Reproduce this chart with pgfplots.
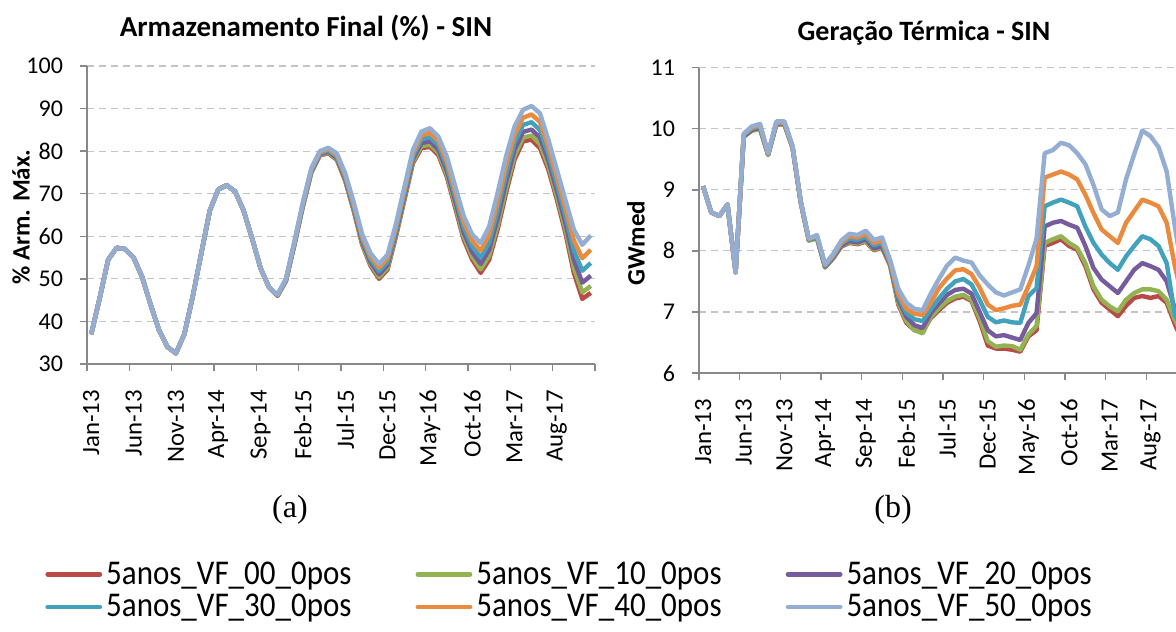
\documentclass[border=0pt]{standalone}
\usepackage{pgfplots}
\pgfplotsset{compat=1.18}
\usepackage{pgfplotstable}
\usepackage{graphicx}
\usepackage{fontspec}
\setmainfont{Carlito}
\newfontfamily\timesfont{Liberation Serif}

\definecolor{c00}{HTML}{B94A46}
\definecolor{c10}{HTML}{93B352}
\definecolor{c20}{HTML}{765C9C}
\definecolor{c30}{HTML}{42A1BC}
\definecolor{c40}{HTML}{EA8A3E}
\definecolor{c50}{HTML}{93ADD3}
\definecolor{axisgray}{HTML}{888888}
\definecolor{gridgray}{HTML}{C4C4C4}

% armazenamento final (% arm. max.), one row per month Jan-13 .. Dec-17
\pgfplotstableread{
x r g p t o lb
0.5 37 37 37 37 37 37
1.5 45.5 45.5 45.5 45.5 45.5 45.5
2.5 54.5 54.5 54.5 54.5 54.5 54.5
3.5 57.3 57.3 57.3 57.3 57.3 57.3
4.5 57 57 57 57 57 57
5.5 55 55 55 55 55 55
6.5 50.5 50.5 50.5 50.5 50.5 50.5
7.5 44 44 44 44 44 44
8.5 38 38 38 38 38 38
9.5 34 34 34 34 34 34
10.5 32.5 32.5 32.5 32.5 32.5 32.5
11.5 37 37 37 37 37 37
12.5 46 46 46 46 46 46
13.5 56 56 56 56 56 56
14.5 66 66 66 66 66 66
15.5 71 71 71 71 71 71
16.5 72 72 72 72 72 72
17.5 70.5 70.5 70.5 70.5 70.5 70.5
18.5 66 66 66 66 66 66
19.5 59.5 59.5 59.5 59.5 59.5 59.5
20.5 52.5 52.5 52.5 52.5 52.5 52.5
21.5 48 48 48 48 48 48
22.5 46 46.04 46.1 46.16 46.23 46.3
23.5 49.5 49.56 49.65 49.76 49.88 50
24.5 58 58.1 58.24 58.42 58.6 58.8
25.5 67 67.12 67.3 67.52 67.75 68
26.5 75 75.12 75.3 75.52 75.75 76
27.5 79 79.12 79.3 79.52 79.75 80
28.5 79.5 79.66 79.89 80.18 80.48 80.8
29.5 78 78.18 78.45 78.78 79.13 79.5
30.5 73 73.22 73.54 73.94 74.35 74.8
31.5 66 66.24 66.6 67.04 67.5 68
32.5 58 58.3 58.75 59.3 59.88 60.5
33.5 53 53.36 53.9 54.56 55.25 56
34.5 50 50.42 51.05 51.82 52.63 53.5
35.5 52.2 52.62 53.25 54.02 54.83 55.7
36.5 60 60.36 60.9 61.56 62.25 63
37.5 68.6 68.97 69.53 70.21 70.93 71.7
38.5 77.2 77.57 78.13 78.81 79.53 80.3
39.5 80.7 81.17 81.87 82.73 83.63 84.6
40.5 81 81.53 82.32 83.29 84.3 85.4
41.5 79.1 79.62 80.39 81.34 82.33 83.4
42.5 74 74.56 75.41 76.44 77.53 78.7
43.5 66.6 67.21 68.13 69.25 70.43 71.7
44.5 59.2 59.86 60.85 62.06 63.33 64.7
45.5 54.5 55.21 56.27 57.57 58.93 60.4
46.5 51.4 52.24 53.5 55.04 56.65 58.4
47.5 54.5 55.44 56.84 58.56 60.35 62.3
48.5 61.6 62.63 64.18 66.07 68.05 70.2
49.5 70.2 71.23 72.78 74.67 76.65 78.8
50.5 78 78.94 80.34 82.06 83.85 85.8
51.5 82.3 83.19 84.52 86.15 87.85 89.7
52.5 82.7 83.65 85.07 86.81 88.63 90.6
53.5 80.7 81.68 83.16 84.96 86.85 88.9
54.5 75.6 76.44 77.7 79.24 80.85 82.6
55.5 68.6 69.44 70.7 72.24 73.85 75.6
56.5 60.8 61.74 63.14 64.86 66.65 68.6
57.5 51.4 52.62 54.46 56.7 59.05 61.6
58.5 45.3 46.82 49.11 51.9 54.83 58
59.5 46.7 48.32 50.75 53.72 56.83 60.2
}\arm

% geracao termica (GWmed)
\pgfplotstableread{
x r g p t o lb
0.5 9.06 9.06 9.06 9.06 9.06 9.06
1.5 8.63 8.63 8.63 8.63 8.63 8.63
2.5 8.57 8.57 8.57 8.57 8.57 8.57
3.5 8.76 8.76 8.76 8.76 8.76 8.76
4.5 7.65 7.65 7.65 7.65 7.65 7.65
5.5 9.87 9.87 9.88 9.9 9.91 9.92
6.5 9.97 9.97 9.98 10.0 10.02 10.04
7.5 10.0 10.0 10.02 10.04 10.06 10.08
8.5 9.57 9.57 9.58 9.58 9.59 9.6
9.5 10.07 10.07 10.08 10.09 10.1 10.12
10.5 10.07 10.07 10.08 10.09 10.1 10.12
11.5 9.69 9.69 9.7 9.7 9.71 9.72
12.5 8.8 8.8 8.8 8.81 8.81 8.82
13.5 8.17 8.17 8.18 8.18 8.19 8.2
14.5 8.21 8.21 8.22 8.23 8.25 8.26
15.5 7.73 7.73 7.74 7.75 7.77 7.78
16.5 7.88 7.88 7.89 7.91 7.93 7.95
17.5 8.07 8.08 8.09 8.12 8.14 8.17
18.5 8.13 8.14 8.16 8.2 8.24 8.28
19.5 8.11 8.12 8.14 8.18 8.22 8.26
20.5 8.15 8.16 8.19 8.23 8.28 8.33
21.5 8.01 8.02 8.04 8.09 8.13 8.18
22.5 8.05 8.06 8.08 8.13 8.17 8.22
23.5 7.76 7.76 7.78 7.8 7.82 7.85
24.5 7.12 7.15 7.2 7.25 7.3 7.38
25.5 6.82 6.85 6.92 6.98 7.05 7.15
26.5 6.7 6.7 6.78 6.88 6.97 7.05
27.5 6.68 6.65 6.74 6.85 6.95 7.03
28.5 6.9 6.92 6.98 7.05 7.15 7.3
29.5 7.03 7.06 7.14 7.22 7.39 7.54
30.5 7.15 7.18 7.28 7.38 7.55 7.76
31.5 7.22 7.25 7.36 7.5 7.68 7.89
32.5 7.25 7.28 7.38 7.54 7.7 7.84
33.5 7.18 7.2 7.3 7.45 7.62 7.81
34.5 6.85 6.9 7.0 7.2 7.4 7.6
35.5 6.45 6.52 6.7 6.92 7.12 7.45
36.5 6.4 6.43 6.6 6.83 7.03 7.32
37.5 6.4 6.45 6.62 6.86 7.06 7.27
38.5 6.38 6.44 6.58 6.83 7.1 7.32
39.5 6.35 6.38 6.54 6.82 7.12 7.37
40.5 6.6 6.63 6.82 7.26 7.42 7.76
41.5 6.7 6.77 6.98 7.39 7.75 8.2
42.5 8.08 8.13 8.4 8.73 9.2 9.6
43.5 8.13 8.19 8.46 8.79 9.25 9.65
44.5 8.19 8.24 8.49 8.84 9.3 9.77
45.5 8.08 8.13 8.43 8.79 9.25 9.73
46.5 8.02 8.05 8.38 8.73 9.17 9.6
47.5 7.75 7.8 8.08 8.4 8.92 9.42
48.5 7.37 7.42 7.72 8.13 8.62 9.08
49.5 7.15 7.2 7.53 7.94 8.35 8.68
50.5 7.04 7.09 7.42 7.8 8.24 8.57
51.5 6.93 7.01 7.31 7.69 8.13 8.63
52.5 7.1 7.2 7.5 7.91 8.46 9.17
53.5 7.23 7.31 7.69 8.08 8.65 9.58
54.5 7.26 7.37 7.8 8.24 8.84 9.97
55.5 7.23 7.37 7.75 8.19 8.79 9.88
56.5 7.26 7.34 7.69 8.08 8.73 9.7
57.5 7.15 7.2 7.5 7.8 8.46 9.3
58.5 6.8 6.87 7.05 6.95 7.75 8.4
59.5 6.5 6.6 6.7 6.7 7.2 7.6
}\ger

\newcommand{\leg}[1]{\scalebox{1}[1.12]{#1}}

\pgfplotsset{
  sinaxis/.style={
    scale only axis, anchor=south west,
    xmin=0, xmax=60,
    axis lines*=left,
    axis line style={draw=axisgray, line width=0.7pt},
    tick align=outside,
    xtick={0.5,5.5,...,55.5},
    xticklabels={Jan-13,Jun-13,Nov-13,Apr-14,Sep-14,Feb-15,Jul-15,Dec-15,May-16,Oct-16,Mar-17,Aug-17},
    minor xtick={0,5,...,60},
    major x tick style={draw=none},
    minor x tick style={draw=axisgray, line width=0.7pt},
    ytick style={draw=axisgray, line width=0.7pt},
    major tick length=3.5pt, minor tick length=3.5pt,
    ymajorgrids,
    grid style={gridgray, line width=0.6pt, dash pattern=on 3.5pt off 2.5pt},
    xticklabel style={font=\fontsize{12.4}{15}\selectfont, rotate=90, anchor=east},
    yticklabel style={font=\fontsize{12}{15}\selectfont},
    xticklabel shift=6pt, yticklabel shift=5pt,
    /pgf/number format/assume math mode=true,
    every axis plot/.append style={line width=2.2pt, line join=round, no markers},
  }
}

\begin{document}
\begin{tikzpicture}
\path[use as bounding box] (0,0) rectangle (588pt,315.5pt);

\begin{axis}[sinaxis, at={(43.5pt,133.5pt)}, width=254pt, height=149pt,
  ymin=30, ymax=100, ytick={30,40,...,100},
  legend columns=3,
  legend style={at={(-0.0827,-0.656)}, anchor=north west, draw=none, fill=none,
    inner sep=0pt, row sep=2pt, font=\fontsize{15.5}{18}\selectfont,
    nodes={inner xsep=2pt, inner ysep=0.8pt},
    /tikz/every even column/.append style={column sep=30pt}},
  legend cell align=left,
  legend image code/.code={\draw[#1, line width=2.4pt, line cap=round] (0pt,0pt) -- (26pt,0pt);}]
  \addplot[c00] table[x=x,y=r] {\arm}; \addlegendentry{\leg{5anos\_VF\_00\_0pos}}
  \addplot[c10] table[x=x,y=g] {\arm}; \addlegendentry{\leg{5anos\_VF\_10\_0pos}}
  \addplot[c20] table[x=x,y=p] {\arm}; \addlegendentry{\leg{5anos\_VF\_20\_0pos}}
  \addplot[c30] table[x=x,y=t] {\arm}; \addlegendentry{\leg{5anos\_VF\_30\_0pos}}
  \addplot[c40] table[x=x,y=o] {\arm}; \addlegendentry{\leg{5anos\_VF\_40\_0pos}}
  \addplot[c50] table[x=x,y=lb] {\arm}; \addlegendentry{\leg{5anos\_VF\_50\_0pos}}
\end{axis}

\begin{axis}[sinaxis, at={(349.5pt,129pt)}, width=244pt, height=152.65pt,
  ymin=6, ymax=11, ytick={6,7,...,11}]
  \addplot[c00] table[x=x,y=r] {\ger};
  \addplot[c10] table[x=x,y=g] {\ger};
  \addplot[c20] table[x=x,y=p] {\ger};
  \addplot[c30] table[x=x,y=t] {\ger};
  \addplot[c40] table[x=x,y=o] {\ger};
  \addplot[c50] table[x=x,y=lb] {\ger};
\end{axis}

\node[font=\bfseries\fontsize{14.5}{17}\selectfont] at (153pt,301.5pt) {Armazenamento Final (\%) - SIN};
\node[font=\bfseries\fontsize{14}{17}\selectfont] at (462pt,299pt) {Geração Térmica - SIN};
\node[rotate=90, font=\bfseries\fontsize{12.5}{14}\selectfont] at (10.5pt,207pt) {\% Arm. Máx.};
\node[rotate=90, font=\bfseries\fontsize{12.5}{14}\selectfont] at (318pt,194pt) {GWmed};
\node[font=\timesfont\fontsize{16}{19}\selectfont] at (145pt,60.5pt) {(a)};
\node[font=\timesfont\fontsize{16}{19}\selectfont] at (446.5pt,60.5pt) {(b)};
\end{tikzpicture}
\end{document}
